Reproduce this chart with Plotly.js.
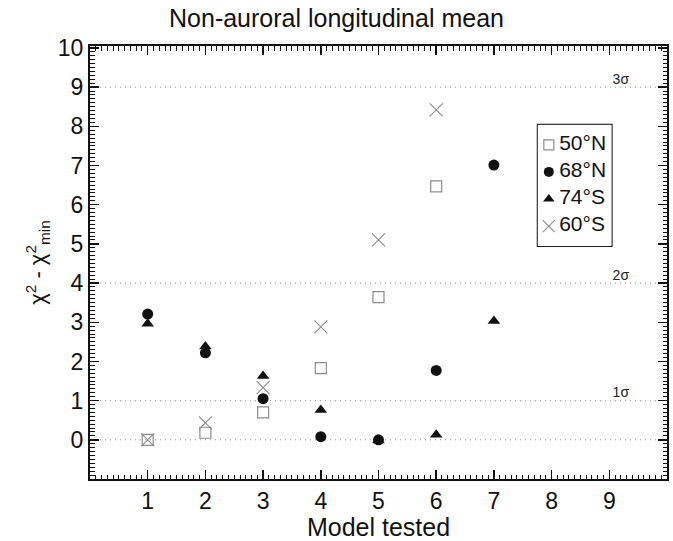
<!DOCTYPE html>
<html><head><meta charset="utf-8">
<script src="https://cdn.plot.ly/plotly-3.0.1.min.js"></script>
<style>body{margin:0;background:#fff}#c{width:673px;height:541px}</style>
</head><body><div id="c"></div>
<script>
var models = [1, 2, 3, 4, 5, 6, 7];
var lat50N = [0, 0.18, 0.70, 1.83, 3.64, 6.47];
var lat68N = [3.21, 2.22, 1.05, 0.08, 0.0, 1.77, 7.01];
var lat74S = [2.96, 2.38, 1.63, 0.76, -0.02, 0.13, 3.03];
var lat60S = [0, 0.43, 1.33, 2.88, 5.10, 8.42];
var seriesNames = ['50°N', '68°N', '74°S', '60°S'];
var sigmaLevels = [0, 1, 4, 9];
var sigmaLabels = ['', '1σ', '2σ', '3σ'];
var xRange = [0, 10];
var yRange = [-1, 10.05];

var styles = [
  {symbol: 'square-open', size: 11, color: '#8c8c8c', line: {width: 1.2, color: '#8c8c8c'}},
  {symbol: 'circle', size: 11, color: '#111'},
  {symbol: 'triangle-up', size: 11, color: '#111'},
  {symbol: 'x-thin-open', size: 13, color: '#8c8c8c', line: {width: 1.1, color: '#8c8c8c'}}
];
var series = [lat50N, lat68N, lat74S, lat60S];

var traces = [];
sigmaLevels.forEach(function (lv) {
  traces.push({x: [0, 9.93], y: [lv, lv], mode: 'lines', showlegend: false, hoverinfo: 'skip',
    line: {color: '#8a8a8a', width: 1, dash: '1px,4px'}});
});
traces.push({x: sigmaLevels.slice(1).map(function () { return 9.2; }), y: sigmaLevels.slice(1), text: sigmaLabels.slice(1), mode: 'text',
  textposition: 'top center', showlegend: false, hoverinfo: 'skip',
  textfont: {size: 14, color: '#222'}});

series.forEach(function (s, i) {
  traces.push({x: models.slice(0, s.length), y: s, name: seriesNames[i], mode: 'markers', showlegend: false, marker: styles[i]});
});

// empty traces so that the mirror / minor-tick / left-major axes get drawn
[['x2', 'y2'], ['x4', 'y4'], ['x5', 'y5'], ['x4', 'y6']].forEach(function (p) {
  traces.push({x: [], y: [], xaxis: p[0], yaxis: p[1], showlegend: false, hoverinfo: 'skip'});
});

// legend drawn on a helper axis
var legRows = seriesNames.map(function (n, i) { return i; });
seriesNames.forEach(function (n, i) {
  traces.push({x: [0.15], y: [legRows[i]], xaxis: 'x3', yaxis: 'y3', mode: 'markers', showlegend: false, hoverinfo: 'skip',
    marker: Object.assign({}, styles[i], {size: styles[i].size - 1})});
});
traces.push({x: legRows.map(function () { return 0.29; }), y: legRows, text: seriesNames, xaxis: 'x3', yaxis: 'y3', mode: 'text',
  textposition: 'middle right', showlegend: false, hoverinfo: 'skip', textfont: {size: 21, color: '#111'}});

var majorAx = {
  showline: true, linecolor: '#111', linewidth: 2,
  ticks: 'inside', ticklen: 9, tickwidth: 1.5, tickcolor: '#111',
  showgrid: false, zeroline: false, tickmode: 'linear', tick0: 0, dtick: 1,
  tickfont: {size: 23, color: '#111'}
};
var minorAx = {
  showline: false, ticks: 'inside', ticklen: 4.5, tickwidth: 1, tickcolor: '#111',
  showgrid: false, zeroline: false, tickmode: 'linear', tick0: 0, dtick: 0.1, showticklabels: false
};

var layout = {
  width: 673, height: 541,
  margin: {l: 90, r: 6, t: 46, b: 62},
  paper_bgcolor: '#fff', plot_bgcolor: '#fff',
  font: {family: 'Liberation Sans, Arial, sans-serif', color: '#111'},
  title: {text: 'Non-auroral longitudinal mean', font: {size: 25, color: '#111'}, x: 0.5, xanchor: 'center', y: 0.966, yanchor: 'middle'},
  xaxis: Object.assign({}, majorAx, {range: xRange, labelalias: {'0': '', '10': ''},
    title: {text: 'Model tested', font: {size: 25}, standoff: 0}}),
  yaxis: Object.assign({}, majorAx, {range: yRange, labelalias: {'\u22121': '', '-1': ''},
    title: {text: 'χ<sup>2</sup> - χ<sup>2</sup><sub>min</sub>', font: {size: 22}, standoff: 6}}),
  xaxis2: Object.assign({}, majorAx, {overlaying: 'x', side: 'top', anchor: 'y2', range: xRange, showticklabels: false}),
  yaxis2: Object.assign({}, majorAx, {overlaying: 'y', side: 'right', anchor: 'x2', range: yRange, showticklabels: false}),
  xaxis4: Object.assign({}, minorAx, {overlaying: 'x', side: 'bottom', anchor: 'y4', range: xRange}),
  yaxis4: Object.assign({}, minorAx, {overlaying: 'y', side: 'left', anchor: 'x4', range: yRange}),
  yaxis6: Object.assign({}, majorAx, {overlaying: 'y', side: 'left', anchor: 'x4', range: yRange, showticklabels: false, showline: false}),
  xaxis5: Object.assign({}, minorAx, {overlaying: 'x', side: 'top', anchor: 'y5', range: xRange}),
  yaxis5: Object.assign({}, minorAx, {overlaying: 'y', side: 'right', anchor: 'x5', range: yRange}),
  xaxis3: {domain: [0.776, 0.904], range: [0, 1], anchor: 'y3', visible: false, fixedrange: true},
  yaxis3: {domain: [0.538, 0.818], range: [3.74, -0.74], anchor: 'x3', visible: false, fixedrange: true},
  shapes: [{type: 'rect', xref: 'x3 domain', yref: 'y3 domain', x0: 0, x1: 1, y0: 0, y1: 1,
    line: {color: '#111', width: 2}, fillcolor: 'rgba(0,0,0,0)', layer: 'below'}],
  showlegend: false
};

Plotly.newPlot('c', traces, layout, {displayModeBar: false, staticPlot: true});
</script></body></html>
